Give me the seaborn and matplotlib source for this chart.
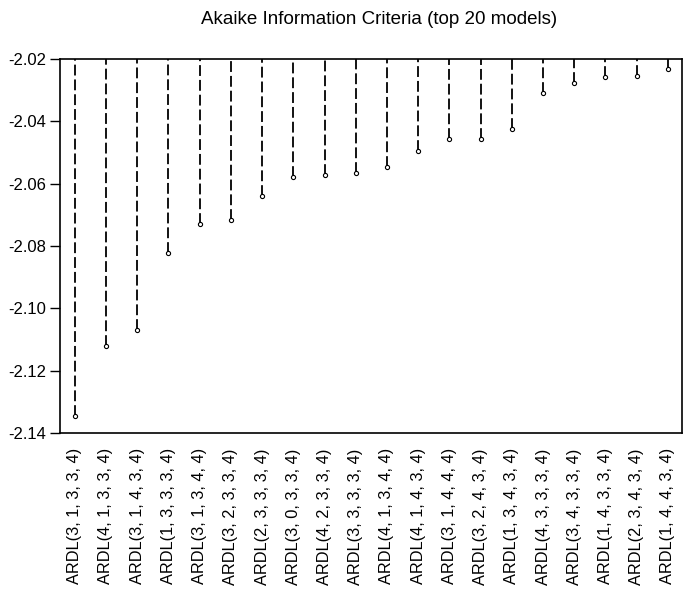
import matplotlib
matplotlib.use("Agg")
import matplotlib.pyplot as plt
import seaborn as sns
import pandas as pd
import numpy as np

models = [
    "ARDL(3, 1, 3, 3, 4)", "ARDL(4, 1, 3, 3, 4)", "ARDL(3, 1, 4, 3, 4)",
    "ARDL(1, 3, 3, 3, 4)", "ARDL(3, 1, 3, 4, 4)", "ARDL(3, 2, 3, 3, 4)",
    "ARDL(2, 3, 3, 3, 4)", "ARDL(3, 0, 3, 3, 4)", "ARDL(4, 2, 3, 3, 4)",
    "ARDL(3, 3, 3, 3, 4)", "ARDL(4, 1, 3, 4, 4)", "ARDL(4, 1, 4, 3, 4)",
    "ARDL(3, 1, 4, 4, 4)", "ARDL(3, 2, 4, 3, 4)", "ARDL(1, 3, 4, 3, 4)",
    "ARDL(4, 3, 3, 3, 4)", "ARDL(3, 4, 3, 3, 4)", "ARDL(1, 4, 3, 3, 4)",
    "ARDL(2, 3, 4, 3, 4)", "ARDL(1, 4, 4, 3, 4)",
]
aic = [
    -2.1345, -2.1121, -2.1069, -2.0822, -2.0731, -2.0718, -2.0638,
    -2.0579, -2.0571, -2.0566, -2.0545, -2.0494, -2.0456, -2.0456,
    -2.0425, -2.0310, -2.0276, -2.0259, -2.0254, -2.0232,
]
yticks = [-2.14, -2.12, -2.10, -2.08, -2.06, -2.04, -2.02]

df = pd.DataFrame({"model": models, "aic": aic, "pos": np.arange(len(models))})

sns.set_theme(style="white")
plt.rcParams["font.family"] = ["Liberation Sans", "DejaVu Sans"]
plt.rcParams["text.color"] = "black"
plt.rcParams["xtick.color"] = "black"
plt.rcParams["ytick.color"] = "black"
plt.rcParams["axes.labelcolor"] = "black"

fig = plt.figure(figsize=(6.83, 5.96), dpi=100)
ax = fig.add_axes([0.088, 0.2735, 0.9105, 0.6275])

top = -2.02
ax.vlines(df["pos"], df["aic"], top, colors="black", linestyles=(0, (6, 2.2)), linewidth=1.3)
sns.scatterplot(data=df, x="pos", y="aic", ax=ax, marker="o", s=9,
                facecolor="white", edgecolor="black", linewidth=0.8, zorder=3)

ax.set_xlim(-0.47, 19.45)
ax.set_ylim(-2.14, -2.02)
ax.set_yticks(yticks)
ax.set_yticklabels([f"{v:.2f}" for v in yticks], fontsize=12, color="black")
ax.set_xticks(df["pos"])
ax.set_xticklabels(df["model"], rotation=90, fontsize=11.8, color="black")
ax.tick_params(axis="y", which="both", left=True, length=7, width=1, color="black", pad=3)
ax.tick_params(axis="x", bottom=False, pad=5)
ax.set_xlabel("")
ax.set_ylabel("")
for s in ax.spines.values():
    s.set_color("black")
    s.set_linewidth(1.2)
    s.set_visible(True)

ax.set_title("Akaike Information Criteria (top 20 models)", fontsize=13.5, pad=25,
             x=0.513, color="black")

fig.savefig("out.png", dpi=100, facecolor="white")
